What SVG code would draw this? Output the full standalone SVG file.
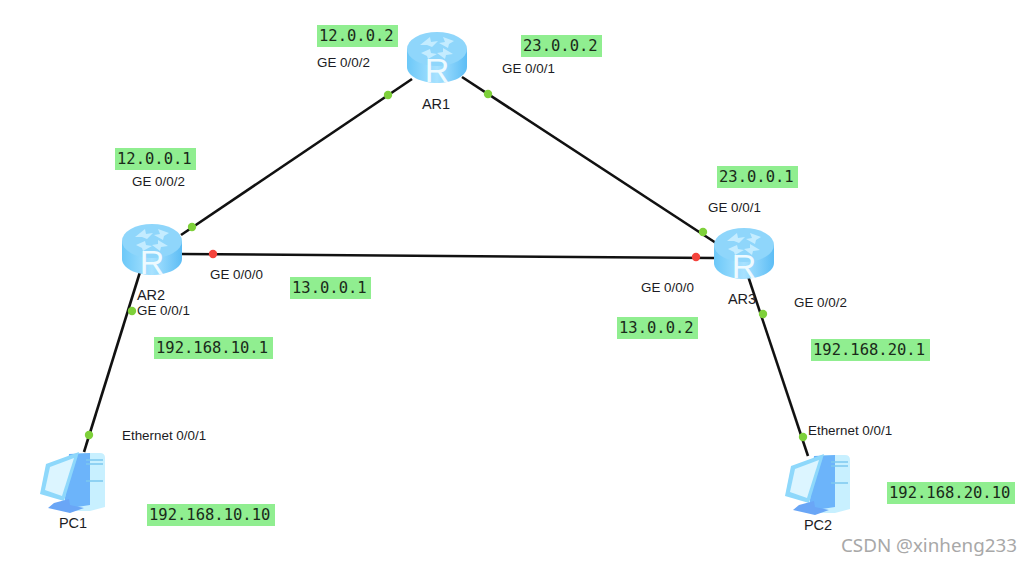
<svg xmlns="http://www.w3.org/2000/svg" width="1032" height="567" viewBox="0 0 1032 567">
<style>
.l{stroke:#111;stroke-width:2.6;fill:none}
.g{fill:#7ed03a}.r{fill:#f4433c}
.t{font:13.4px "Liberation Sans",Arial,sans-serif;fill:#1c1c24}
.n{font:14.5px "Liberation Sans",Arial,sans-serif;fill:#1c1c24}
.b{fill:#90ee90}
.m{font:15.5px "DejaVu Sans Mono",monospace;fill:#1a2a1a}
.w{font:18.8px "Noto Sans",sans-serif;fill:#a8a8a8}
</style>
<defs>
<linearGradient id="rg" x1="0" x2="1" y1="0" y2="0"><stop offset="0" stop-color="#6cc8f8"/><stop offset=".5" stop-color="#a8e2ff"/><stop offset="1" stop-color="#5dbdf5"/></linearGradient>
<g id="router">
<path d="M-30 17V35C-30 44-16 51 0 51S30 44 30 35V17Z" fill="url(#rg)"/>
<ellipse cx="0" cy="17" rx="30" ry="17" fill="#8fd6fb"/>
<path d="M-17 13l10-8 1 5 7-1-6 6-5-2zM17 9l-11-4 2 5-6 1 9 5 1-4zM-16 21l9-4 1 4 6 1-9 5-1-3zM16 22l-10-6 0 4-6 1 8 6 1-4z" fill="#c4ecff"/>
<text x="0" y="50" text-anchor="middle" style="font:34px 'Liberation Sans',sans-serif" fill="#eefaff">R</text>
</g>
<g id="pc">
<path d="M36 8H60Q65 8 65 13V62L50 66H36Z" fill="#c8f0ff"/>
<path d="M29 9L50 8L50 60L24 64Z" fill="#6cb4fa"/>
<path d="M6 19L39 7L24 56L0 49Z" fill="#8ed8fb"/>
<path d="M10 22L34 13L22 51L5 45Z" fill="#dcf5ff"/>
<path d="M14 58L8 63L30 68L44 63L30 60L29 54Z" fill="#6aa6f6"/>
<path d="M46 15H63M46 19H63M46 36H63" stroke="#7cc8f0" stroke-width="1.5"/>
</g>
</defs>
<rect width="1032" height="567" fill="#fff"/>
<g id="connectors">
<path class="l" d="M181 235L412 79"/>
<path class="l" d="M462 77L716 243"/>
<path class="l" d="M181 254L714 258"/>
<path class="l" d="M140 272L84 452"/>
<path class="l" d="M748 276L808 456"/>
<circle class="g" cx="388" cy="95" r="4.2"/><circle class="g" cx="488" cy="94" r="4.2"/>
<circle class="g" cx="192" cy="227" r="4.2"/><circle class="g" cx="703" cy="232" r="4.2"/>
<circle class="r" cx="213" cy="254" r="4.2"/><circle class="r" cx="696" cy="257" r="4.2"/>
<circle class="g" cx="132" cy="311" r="4.2"/><circle class="g" cx="89" cy="435" r="4.2"/>
<circle class="g" cx="763" cy="314" r="4.2"/><circle class="g" cx="803" cy="437" r="4.2"/>
</g>
<g id="AR1"><use href="#router" x="437" y="32"/><text class="n" x="436" y="109" text-anchor="middle">AR1</text></g>
<g id="AR2"><use href="#router" x="152" y="224"/><text class="n" x="151" y="300" text-anchor="middle">AR2</text></g>
<g id="AR3"><use href="#router" x="744" y="228"/><text class="n" x="742" y="304" text-anchor="middle">AR3</text></g>
<g id="PC1"><use href="#pc" x="40" y="445"/><text class="n" x="73" y="528" text-anchor="middle">PC1</text></g>
<g id="PC2"><use href="#pc" x="785" y="447"/><text class="n" x="818" y="530" text-anchor="middle">PC2</text></g>
<g id="ports">
<text class="t" x="317" y="67">GE 0/0/2</text>
<text class="t" x="502" y="73">GE 0/0/1</text>
<text class="t" x="132" y="186">GE 0/0/2</text>
<text class="t" x="708" y="212">GE 0/0/1</text>
<text class="t" x="210" y="279">GE 0/0/0</text>
<text class="t" x="641" y="292">GE 0/0/0</text>
<text class="t" x="137" y="315">GE 0/0/1</text>
<text class="t" x="794" y="307">GE 0/0/2</text>
<text class="t" x="122" y="440">Ethernet 0/0/1</text>
<text class="t" x="808" y="435">Ethernet 0/0/1</text>
</g>
<g id="addresses">
<rect class="b" x="317" y="25" width="81" height="22"/><text class="m" x="319" y="41">12.0.0.2</text>
<rect class="b" x="521" y="35" width="81" height="22"/><text class="m" x="523" y="51">23.0.0.2</text>
<rect class="b" x="115" y="148" width="81" height="22"/><text class="m" x="117" y="164">12.0.0.1</text>
<rect class="b" x="717" y="166" width="81" height="22"/><text class="m" x="719" y="182">23.0.0.1</text>
<rect class="b" x="290" y="277" width="81" height="22"/><text class="m" x="292" y="293">13.0.0.1</text>
<rect class="b" x="617" y="317" width="81" height="22"/><text class="m" x="619" y="333">13.0.0.2</text>
<rect class="b" x="154" y="337" width="119" height="22"/><text class="m" x="156" y="353">192.168.10.1</text>
<rect class="b" x="811" y="339" width="119" height="22"/><text class="m" x="813" y="355">192.168.20.1</text>
<rect class="b" x="147" y="504" width="128" height="22"/><text class="m" x="149" y="520">192.168.10.10</text>
<rect class="b" x="887" y="482" width="128" height="22"/><text class="m" x="889" y="498">192.168.20.10</text>
</g>
<text class="w" x="841" y="552">CSDN @xinheng233</text>
</svg>
